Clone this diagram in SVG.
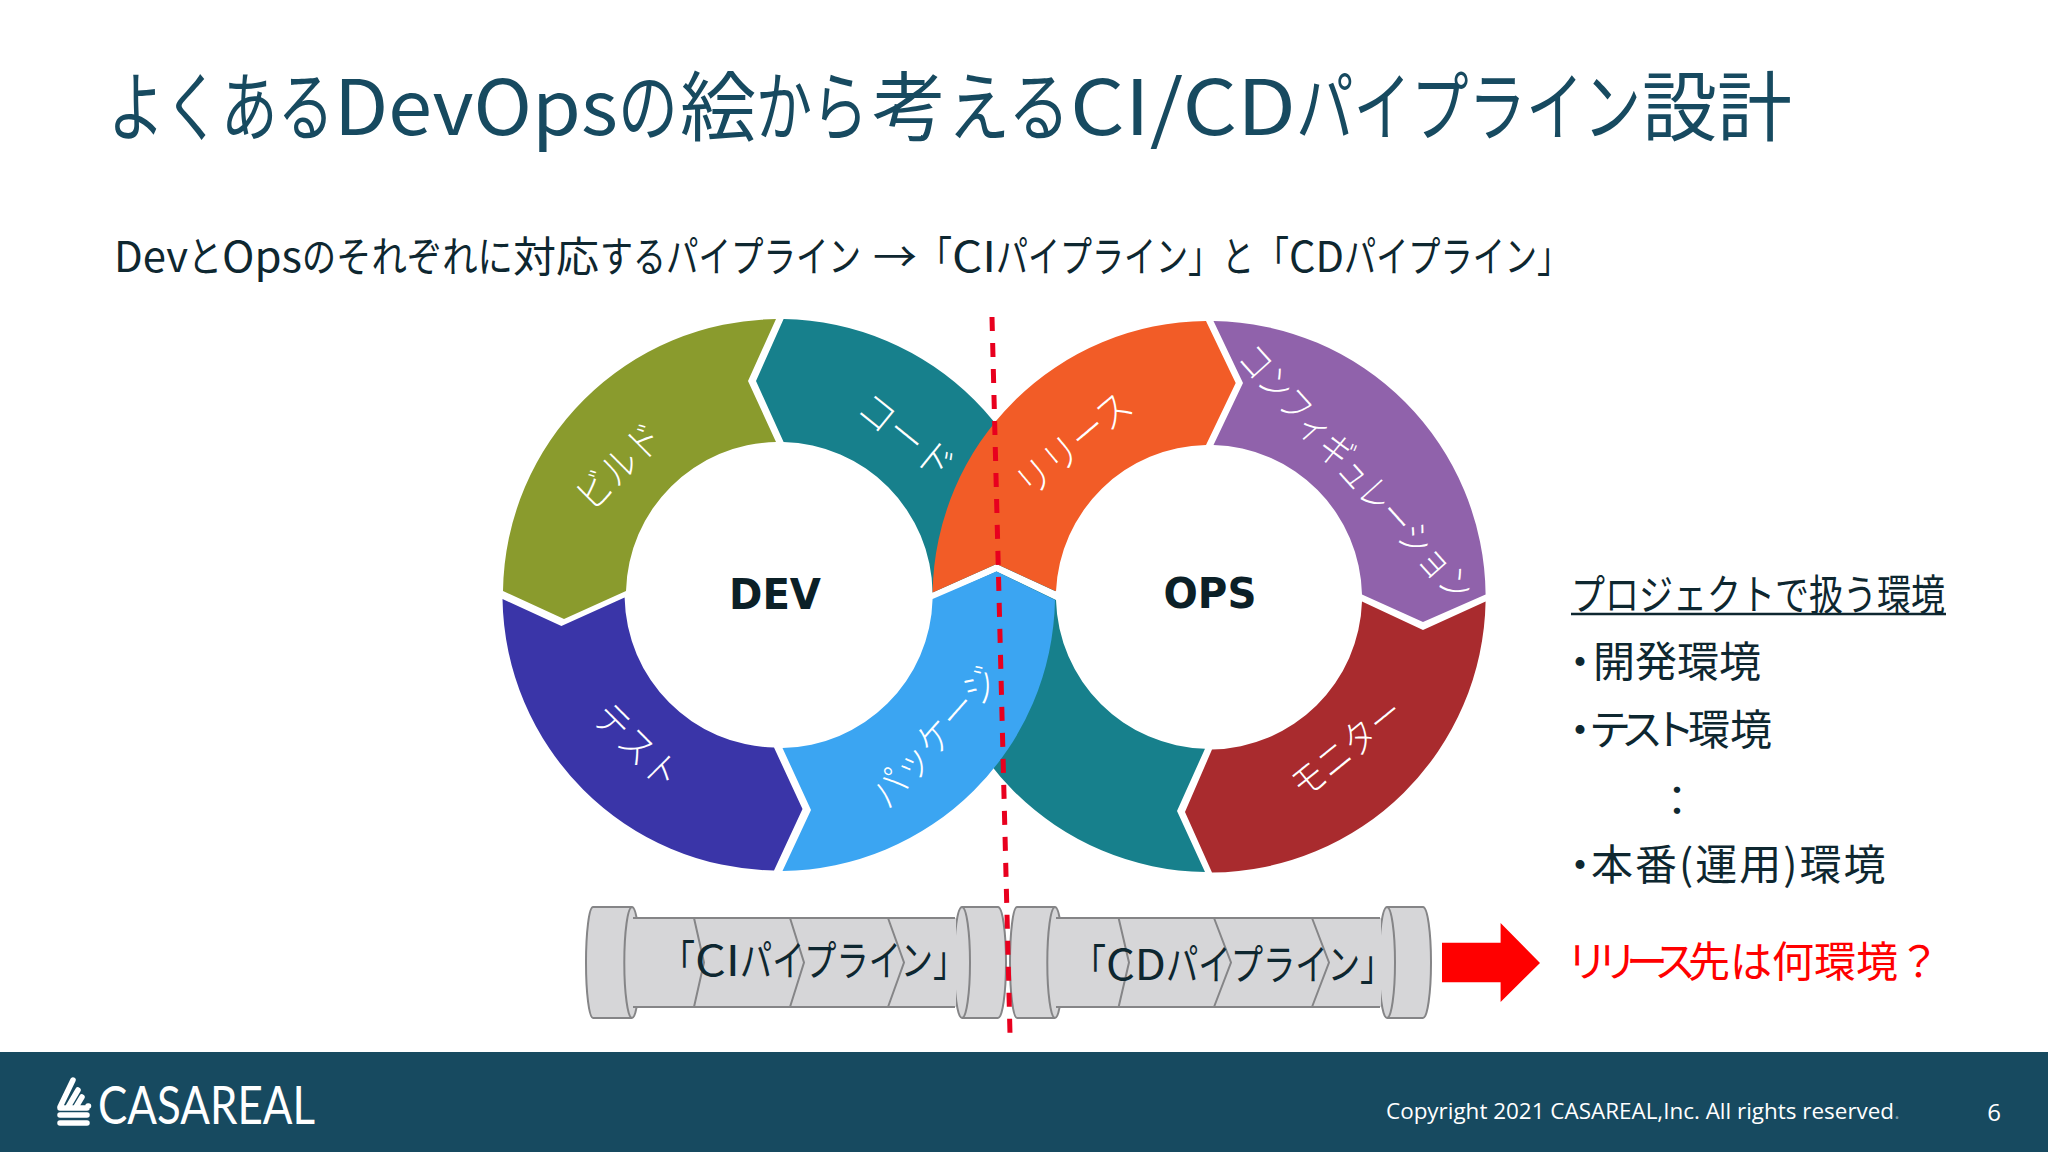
<svg xmlns="http://www.w3.org/2000/svg" width="2048" height="1152" viewBox="0 0 2048 1152">
<style>
text{font-family:"Noto Sans CJK JP","Noto Sans",sans-serif}
.title{font-size:76px;fill:#174a60;font-weight:400}
.sub{font-size:42px;fill:#0e2730;font-weight:400}
.body{font-size:42px;fill:#0e2730;font-weight:400}
.ring{font-size:39px;fill:#fff;font-weight:300;text-anchor:middle}
.hub{font-family:"DejaVu Sans",sans-serif;font-size:43px;font-weight:700;fill:#0b2027;text-anchor:middle}
.flange,.body-fill{fill:#d6d6d8}
.flange{stroke:#858587;stroke-width:2}
.pipe-line{fill:none;stroke:#858587;stroke-width:2}
.pipe-text{font-size:42px;fill:#0e2730;font-weight:400}
.logo{stroke:#fff;stroke-width:5.5;stroke-linecap:round;fill:none}
</style>
<rect width="2048" height="1152" fill="#fff"/>
<g id="title">
<text class="title" y="135"><tspan x="108" textLength="226" lengthAdjust="spacingAndGlyphs">よくある</tspan><tspan x="334" textLength="284" lengthAdjust="spacingAndGlyphs">DevOps</tspan><tspan x="618" textLength="60" lengthAdjust="spacingAndGlyphs">の</tspan><tspan x="680" textLength="76" lengthAdjust="spacingAndGlyphs">絵</tspan><tspan x="756" textLength="112" lengthAdjust="spacingAndGlyphs">から</tspan><tspan x="872" textLength="74" lengthAdjust="spacingAndGlyphs">考</tspan><tspan x="948" textLength="122" lengthAdjust="spacingAndGlyphs">える</tspan><tspan x="1070" textLength="226" lengthAdjust="spacingAndGlyphs">CI/CD</tspan><tspan x="1296" textLength="345" lengthAdjust="spacingAndGlyphs">パイプライン</tspan><tspan x="1642" textLength="150" lengthAdjust="spacingAndGlyphs">設計</tspan></text>
</g>
<g id="subtitle">
<text class="sub" y="272"><tspan x="114" textLength="74" lengthAdjust="spacingAndGlyphs">Dev</tspan><tspan x="188" textLength="34" lengthAdjust="spacingAndGlyphs">と</tspan><tspan x="222" textLength="80" lengthAdjust="spacingAndGlyphs">Ops</tspan><tspan x="302" textLength="34" lengthAdjust="spacingAndGlyphs">の</tspan><tspan x="336" textLength="177" lengthAdjust="spacingAndGlyphs">それぞれに</tspan><tspan x="513" textLength="86" lengthAdjust="spacingAndGlyphs">対応</tspan><tspan x="600" textLength="66" lengthAdjust="spacingAndGlyphs">する</tspan><tspan x="666" textLength="195" lengthAdjust="spacingAndGlyphs">パイプライン</tspan><tspan x="873" textLength="44" lengthAdjust="spacingAndGlyphs">→</tspan><tspan x="918" textLength="34" lengthAdjust="spacingAndGlyphs">「</tspan><tspan x="952" textLength="44" lengthAdjust="spacingAndGlyphs">CI</tspan><tspan x="996" textLength="192" lengthAdjust="spacingAndGlyphs">パイプライン</tspan><tspan x="1188" textLength="34" lengthAdjust="spacingAndGlyphs">」</tspan><tspan x="1222" textLength="32" lengthAdjust="spacingAndGlyphs">と</tspan><tspan x="1255" textLength="34" lengthAdjust="spacingAndGlyphs">「</tspan><tspan x="1289" textLength="55" lengthAdjust="spacingAndGlyphs">CD</tspan><tspan x="1344" textLength="193" lengthAdjust="spacingAndGlyphs">パイプライン</tspan><tspan x="1537" textLength="34" lengthAdjust="spacingAndGlyphs">」</tspan></text>
</g>
<g id="ring-segments">
<g id="seg-code"><path fill="#17808c" d="M783.6,319 L756,381 L783.6,442 A153,153 0 0 1 932.6,592.5 L996.5,564 L1055,591 A276,276 0 0 0 783.6,319 Z"/></g>
<g id="seg-ops-teal"><path fill="#17808c" d="M1056,600 A153,153 0 0 0 1205,748.7 L1177,811 L1205,872 A276,276 0 0 1 933,600 L996.5,571.5 Z"/></g>
<g id="seg-build"><path fill="#8a9b2d" d="M776,319 L748,381 L776,442 A153,153 0 0 0 626,591 L564,619 L503,591 A276,276 0 0 1 776,319 Z"/></g>
<g id="seg-test"><path fill="#3a35a8" d="M502.5,599 L561.4,626 L624.6,597.6 A153,153 0 0 0 774,747.5 L802.5,809 L774,870.5 A276,276 0 0 1 502.5,599 Z"/></g>
<g id="seg-package"><path fill="#3ba5f2" d="M782.5,748 L811,810 L782.5,871 A276,276 0 0 0 1055,600 L996.5,571.5 L932.6,599 A153,153 0 0 1 782.5,748 Z"/></g>
<g id="seg-release"><path fill="#f25c27" d="M932.6,592.5 L996.5,564 L1056,591.3 A153,153 0 0 1 1206,445 L1235.7,383 L1206,321 A276,276 0 0 0 932.6,592.5 Z"/></g>
<g id="seg-config"><path fill="#9062ab" d="M1213.5,321 L1243,383 L1213.5,445 A153,153 0 0 1 1362,594.5 L1423,622 L1485.6,594.5 A276,276 0 0 0 1213.5,321 Z"/></g>
<g id="seg-monitor"><path fill="#a92b2e" d="M1362,601.6 L1423,630 L1485.6,601.6 A276,276 0 0 1 1212,872.5 L1185,812 L1212,749.5 A153,153 0 0 0 1362,601.6 Z"/></g>
</g>
<g id="ring-labels">
<text class="ring" transform="translate(619,466) rotate(-45)" y="14" textLength="104" lengthAdjust="spacingAndGlyphs">ビルド</text>
<text class="ring" transform="translate(906,436) rotate(39)" y="14" textLength="112" lengthAdjust="spacingAndGlyphs">コード</text>
<text class="ring" transform="translate(637,746) rotate(45)" y="14" textLength="104" lengthAdjust="spacingAndGlyphs">テスト</text>
<text class="ring" transform="translate(935,737) rotate(-48.6)" y="14" textLength="172" lengthAdjust="spacingAndGlyphs">パッケージ</text>
<text class="ring" transform="translate(1074,444) rotate(-40)" y="14" textLength="138" lengthAdjust="spacingAndGlyphs">リリース</text>
<text class="ring" transform="translate(1356,473) rotate(48)" y="14" textLength="330" lengthAdjust="spacingAndGlyphs">コンフィギュレーション</text>
<text class="ring" transform="translate(1347,748) rotate(-39)" y="14" textLength="132" lengthAdjust="spacingAndGlyphs">モニター</text>
</g>
<g id="dev"><text class="hub" x="775" y="609" textLength="92" lengthAdjust="spacingAndGlyphs">DEV</text></g>
<g id="ops"><text class="hub" x="1210" y="608" textLength="93" lengthAdjust="spacingAndGlyphs">OPS</text></g>
<g id="pipe-ci">
<path class="flange" d="M593,907 H632 A7.7,55.5 0 0 1 632,1018 H593 A7,55.5 0 0 1 593,907 Z"/>
<path class="flange" d="M962,907 H998 A8,55.5 0 0 1 998,1018 H962 A8,55.5 0 0 1 962,907 Z"/>
<rect class="body-fill" x="634" y="918" width="322" height="89"/>
<path class="pipe-line" d="M633,918 H955 M633,1007 H955 M632,907 A7.7,55.5 0 0 0 632,1018 M962,907 A8,55.5 0 0 1 962,1018 M694,918 L704,962.5 L694,1007 M790,918 L804,962.5 L790,1007 M888,918 L904,962.5 L888,1007"/>
<text class="pipe-text" y="976"><tspan x="661" textLength="34" lengthAdjust="spacingAndGlyphs">「</tspan><tspan x="695" textLength="45" lengthAdjust="spacingAndGlyphs">CI</tspan><tspan x="740" textLength="193" lengthAdjust="spacingAndGlyphs">パイプライン</tspan><tspan x="933" textLength="34" lengthAdjust="spacingAndGlyphs">」</tspan></text>
</g>
<g id="pipe-cd">
<path class="flange" d="M1017,907 H1055 A7.7,55.5 0 0 1 1055,1018 H1017 A7,55.5 0 0 1 1017,907 Z"/>
<path class="flange" d="M1387,907 H1423 A8,55.5 0 0 1 1423,1018 H1387 A8,55.5 0 0 1 1387,907 Z"/>
<rect class="body-fill" x="1057" y="918" width="324" height="89"/>
<path class="pipe-line" d="M1056,918 H1380 M1056,1007 H1380 M1055,907 A7.7,55.5 0 0 0 1055,1018 M1387,907 A8,55.5 0 0 1 1387,1018 M1118.6,918 L1129,962.5 L1118.6,1007 M1214,918 L1231,962.5 L1214,1007 M1312,918 L1329,962.5 L1312,1007"/>
<text class="pipe-text" y="980"><tspan x="1072" textLength="34" lengthAdjust="spacingAndGlyphs">「</tspan><tspan x="1106" textLength="60" lengthAdjust="spacingAndGlyphs">CD</tspan><tspan x="1166" textLength="194" lengthAdjust="spacingAndGlyphs">パイプライン</tspan><tspan x="1360" textLength="34" lengthAdjust="spacingAndGlyphs">」</tspan></text>
</g>
<g id="connectors">
<line x1="992" y1="317" x2="1010" y2="1034" stroke="#e8001e" stroke-width="5" stroke-dasharray="14 12"/>
<polygon fill="#ff0000" points="1442,942.7 1500.6,942.7 1500.6,923 1540,963 1500.6,1002 1500.6,982.3 1442,982.3"/>
</g>
<g id="environments">
<text class="body" x="1571" y="610" textLength="374" lengthAdjust="spacingAndGlyphs">プロジェクトで扱う環境</text>
<line x1="1571" y1="614" x2="1946" y2="614" stroke="#0e2730" stroke-width="2.5"/>
<text class="body" x="1559" y="677">・<tspan x="1593">開発環境</tspan></text>
<text class="body" x="1559" y="745">・<tspan x="1589" letter-spacing="-10">テスト</tspan><tspan x="1688">環境</tspan></text>
<text class="body" x="1677" y="816" text-anchor="middle" font-weight="700">：</text>
<text class="body" x="1559" y="880">・<tspan x="1591" letter-spacing="2">本番(運用)環境</tspan></text>
<text class="body" x="1566" y="977" style="fill:#ff0000"><tspan letter-spacing="-12">リリース</tspan><tspan x="1688">先は何環境？</tspan></text>
</g>
<g id="footer">
<rect x="0" y="1052" width="2048" height="100" fill="#174a60"/>
<path class="logo" d="M60,1107 L73,1080 M68,1107 L78,1090 M76,1107 L82,1097 M88,1106 L88.5,1106 M60,1108 H87 M60,1115 H87 M60,1123 H87"/>
<text x="98" y="1124" font-size="52" font-weight="400" fill="#fff" textLength="217" lengthAdjust="spacingAndGlyphs" style="font-family:Lato,sans-serif">CASAREAL</text>
<text x="1386" y="1119" font-size="22.5" fill="#fff" textLength="514" lengthAdjust="spacingAndGlyphs" style="font-family:'Open Sans',sans-serif">Copyright 2021 CASAREAL,Inc. All rights reserved<tspan fill-opacity="0.45">.</tspan></text>
<text x="1994" y="1121" font-size="24" fill="#fff" text-anchor="middle" style="font-family:'Open Sans',sans-serif">6</text>
</g>
</svg>
